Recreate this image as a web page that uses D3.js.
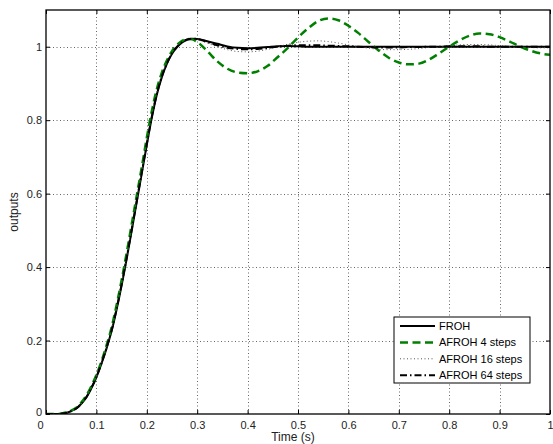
<!DOCTYPE html>
<html>
<head>
<meta charset="utf-8">
<script src="https://cdn.jsdelivr.net/npm/d3@7"></script>
<style>
  body { margin: 0; background: #fff; }
  svg { display: block; font-family: "Liberation Sans", Arial, sans-serif; }
</style>
</head>
<body>
<script>
// time samples (s)
var time = [0,0.01,0.02,0.03,0.04,0.05,0.06,0.07,0.08,0.09,0.10,0.11,0.12,0.13,0.14,0.15,
    0.16,0.17,0.18,0.19,0.20,0.21,0.22,0.23,0.24,0.25,0.26,0.27,0.28,0.29,0.30,
    0.32,0.34,0.36,0.38,0.40,0.42,0.44,0.46,0.48,0.50,0.52,0.54,0.56,0.58,0.60,
    0.62,0.64,0.66,0.68,0.70,0.72,0.74,0.76,0.78,0.80,0.82,0.84,0.86,0.88,0.90,
    0.92,0.94,0.96,0.98,1.00];

var froh = [0,0,0,0.001,0.003,0.008,0.015,0.028,0.045,0.07,0.10,0.137,0.178,0.225,0.284,0.35,
    0.422,0.499,0.577,0.655,0.733,0.807,0.87,0.918,0.954,0.981,0.999,1.012,1.019,1.022,1.021,
    1.015,1.008,1.001,0.997,0.996,0.997,0.999,1.001,1.002,1.001,1.0,1.0,1.0,1.0,1.0,
    1.0,1.0,1.0,1.0,1.0,1.0,1.0,1.0,1.0,1.0,1.0,1.0,1.0,1.0,1.0,
    1.0,1.0,1.0,1.0,1.0];

var afroh4 = [0,0,0,0.001,0.004,0.009,0.017,0.031,0.05,0.076,0.106,0.143,0.186,0.235,0.296,0.364,
    0.438,0.516,0.594,0.672,0.752,0.825,0.885,0.93,0.963,0.988,1.005,1.016,1.021,1.02,1.013,
    0.988,0.96,0.94,0.93,0.928,0.933,0.948,0.972,0.997,1.025,1.05,1.07,1.077,1.072,1.057,
    1.037,1.013,0.99,0.97,0.957,0.952,0.954,0.965,0.982,1.0,1.017,1.03,1.036,1.034,1.026,
    1.014,1.001,0.99,0.982,0.978];

var afroh16 = [0,0,0,0.001,0.003,0.008,0.016,0.029,0.047,0.072,0.103,0.14,0.182,0.23,0.29,0.357,
    0.43,0.507,0.585,0.663,0.742,0.815,0.877,0.923,0.958,0.984,1.002,1.014,1.02,1.022,1.02,
    1.01,1.0,0.992,0.987,0.986,0.988,0.993,1.0,1.007,1.012,1.015,1.016,1.014,1.01,1.005,
    1.0,0.996,0.993,0.992,0.992,0.993,0.995,0.998,1.0,1.003,1.005,1.006,1.006,1.005,1.003,
    1.001,0.999,0.998,0.997,0.997];

var afroh64 = [0,0,0,0.001,0.003,0.008,0.015,0.028,0.046,0.071,0.101,0.138,0.18,0.227,0.286,0.353,
    0.425,0.502,0.58,0.658,0.736,0.81,0.872,0.92,0.955,0.982,1.0,1.013,1.02,1.022,1.021,
    1.013,1.004,0.997,0.994,0.993,0.994,0.997,1.0,1.003,1.004,1.004,1.004,1.003,1.002,1.001,
    1.0,0.999,0.998,0.998,0.998,0.999,0.999,1.0,1.0,1.001,1.001,1.001,1.001,1.0,1.0,
    1.0,1.0,1.0,1.0,1.0];

var seriesNames = ["FROH", "AFROH 4 steps", "AFROH 16 steps", "AFROH 64 steps"];
var xTicks = [0,0.1,0.2,0.3,0.4,0.5,0.6,0.7,0.8,0.9,1];
var yTicks = [0,0.2,0.4,0.6,0.8,1];

(function () {
    var width = 553, height = 444;
    var margin = {top: 10, right: 3, bottom: 30, left: 46};
    var w = width - margin.left - margin.right;
    var h = height - margin.top - margin.bottom;

    var svg = d3.select("body").append("svg")
        .attr("width", width).attr("height", height);

    var x = d3.scaleLinear().domain([0, 1]).range([0, w]);
    var y = d3.scaleLinear().domain([0, 1.1]).range([h, 0]);

    var g = svg.append("g").attr("transform", "translate(" + margin.left + "," + margin.top + ")");

    // grid
    var grid = g.append("g").attr("stroke", "#666").attr("stroke-width", 1)
        .attr("stroke-dasharray", "1,2.5");
    grid.selectAll(".gx").data(xTicks.slice(1, -1)).enter().append("line")
        .attr("x1", function (d) { return Math.round(x(d)) + 0.5; })
        .attr("x2", function (d) { return Math.round(x(d)) + 0.5; })
        .attr("y1", 0).attr("y2", h);
    grid.selectAll(".gy").data(yTicks.slice(1)).enter().append("line")
        .attr("y1", function (d) { return Math.round(y(d)) + 0.5; })
        .attr("y2", function (d) { return Math.round(y(d)) + 0.5; })
        .attr("x1", 0).attr("x2", w);

    // axes (ticks inward, matlab style)
    var xAxis = g.append("g").attr("transform", "translate(0," + h + ")")
        .call(d3.axisBottom(x).tickValues(xTicks).tickSizeInner(-4).tickSizeOuter(0)
            .tickPadding(7).tickFormat(d3.format("")));
    var xTop = g.append("g")
        .call(d3.axisTop(x).tickValues(xTicks).tickSizeInner(-4).tickSizeOuter(0).tickFormat(""));
    var yAxis = g.append("g")
        .call(d3.axisLeft(y).tickValues(yTicks).tickSizeInner(-4).tickSizeOuter(0)
            .tickPadding(4).tickFormat(d3.format("")));
    var yRight = g.append("g").attr("transform", "translate(" + w + ",0)")
        .call(d3.axisRight(y).tickValues(yTicks).tickSizeInner(-4).tickSizeOuter(0).tickFormat(""));

    [xAxis, xTop, yAxis, yRight].forEach(function (a) {
        a.select(".domain").remove();
        a.selectAll("line").attr("stroke", "#000");
        a.selectAll("text").attr("font-size", 11).attr("fill", "#222")
            .attr("font-family", "Liberation Sans, Arial, sans-serif");
    });
    xAxis.selectAll("text").filter(function (d) { return d === 0; }).attr("dx", -6);
    yAxis.selectAll("text").filter(function (d) { return d === 0; }).attr("y", -2);

    // curves
    var defs = svg.append("defs");
    defs.append("clipPath").attr("id", "clip").append("rect")
        .attr("width", w).attr("height", h);

    var line = function (vals) {
        return d3.line()
            .x(function (d, i) { return x(time[i]); })
            .y(function (d) { return y(d); })
            .curve(d3.curveMonotoneX)(vals);
    };

    var styles = [
        {data: froh, stroke: "#000", width: 2, dash: null},
        {data: afroh4, stroke: "#008000", width: 2.5, dash: "8,4.5"},
        {data: afroh16, stroke: "#555", width: 1, dash: "1,2.5"},
        {data: afroh64, stroke: "#000", width: 2, dash: "7,3,1.5,3"}
    ];

    var plot = g.append("g").attr("clip-path", "url(#clip)");
    styles.forEach(function (s) {
        plot.append("path")
            .attr("d", line(s.data))
            .attr("fill", "none")
            .attr("stroke", s.stroke)
            .attr("stroke-width", s.width)
            .attr("stroke-dasharray", s.dash);
    });

    // axes box
    g.append("rect").attr("width", w).attr("height", h)
        .attr("fill", "none").attr("stroke", "#000").attr("stroke-width", 1.3);

    // labels
    svg.append("text").attr("x", margin.left + w / 2 - 5).attr("y", 441)
        .attr("text-anchor", "middle").attr("font-size", 12).attr("fill", "#222")
        .text("Time (s)");
    svg.append("text")
        .attr("transform", "translate(18," + (margin.top + h / 2) + ") rotate(-90)")
        .attr("text-anchor", "middle").attr("font-size", 12).attr("fill", "#222")
        .text("outputs");

    // legend
    var leg = svg.append("g").attr("transform", "translate(394,317)");
    leg.append("rect").attr("width", 136).attr("height", 66)
        .attr("fill", "#fff").attr("stroke", "#000").attr("stroke-width", 1);
    styles.forEach(function (s, i) {
        var ly = 9 + i * 16.4;
        leg.append("line").attr("x1", 6).attr("x2", 41).attr("y1", ly).attr("y2", ly)
            .attr("stroke", s.stroke).attr("stroke-width", s.width)
            .attr("stroke-dasharray", s.dash);
        leg.append("text").attr("x", 45).attr("y", ly + 4)
            .attr("font-size", 11).attr("fill", "#000")
            .text(seriesNames[i]);
    });
})();
</script>
</body>
</html>
